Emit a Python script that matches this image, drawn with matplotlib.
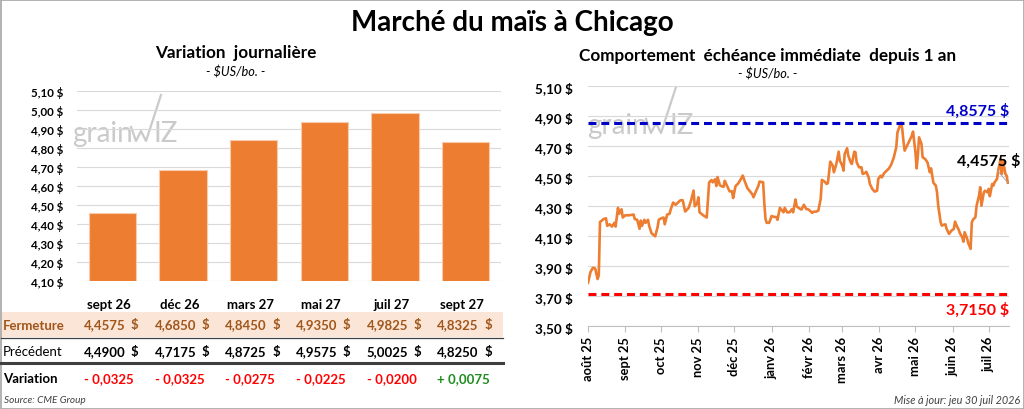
import numpy as np
import pandas as pd
import matplotlib
matplotlib.use("Agg")
import matplotlib.pyplot as plt
import matplotlib.dates as mdates
from matplotlib.transforms import blended_transform_factory
from matplotlib.patches import Rectangle
from matplotlib.lines import Line2D

plt.rcParams['font.family'] = ['Lato', 'DejaVu Sans']

# --- Données : variation journalière (contrats) ---
echeances = ["sept 26", "déc 26", "mars 27", "mai 27", "juil 27", "sept 27"]
fermeture = [4.4575, 4.6850, 4.8450, 4.9350, 4.9825, 4.8325]
precedent = [4.4900, 4.7175, 4.8725, 4.9575, 5.0025, 4.8250]

# --- Données : échéance immédiate depuis 1 an ---
jour = [
    "2025-08-01", "2025-08-03", "2025-08-05", "2025-08-07", "2025-08-09", "2025-08-10", "2025-08-11", "2025-08-14", "2025-08-16", "2025-08-17",
    "2025-08-19", "2025-08-21", "2025-08-23", "2025-08-24", "2025-08-26", "2025-08-27", "2025-08-29", "2025-08-30", "2025-09-01", "2025-09-04",
    "2025-09-08", "2025-09-09", "2025-09-11", "2025-09-13", "2025-09-14", "2025-09-15", "2025-09-17", "2025-09-18", "2025-09-20", "2025-09-21",
    "2025-09-23", "2025-09-26", "2025-09-28", "2025-09-29", "2025-10-01", "2025-10-03", "2025-10-04", "2025-10-06", "2025-10-08", "2025-10-09",
    "2025-10-11", "2025-10-13", "2025-10-15", "2025-10-17", "2025-10-19", "2025-10-21", "2025-10-24", "2025-10-26", "2025-10-28", "2025-10-29",
    "2025-10-31", "2025-11-01", "2025-11-02", "2025-11-05", "2025-11-07", "2025-11-08", "2025-11-10", "2025-11-12", "2025-11-13", "2025-11-15",
    "2025-11-16", "2025-11-17", "2025-11-19", "2025-11-20", "2025-11-22", "2025-11-23", "2025-11-25", "2025-11-27", "2025-11-29", "2025-11-30",
    "2025-12-02", "2025-12-04", "2025-12-06", "2025-12-08", "2025-12-10", "2025-12-12", "2025-12-14", "2025-12-16", "2025-12-17", "2025-12-19",
    "2025-12-21", "2025-12-22", "2025-12-25", "2025-12-26", "2025-12-27", "2025-12-28", "2025-12-30", "2025-12-31", "2026-01-01", "2026-01-03",
    "2026-01-05", "2026-01-06", "2026-01-08", "2026-01-09", "2026-01-11", "2026-01-12", "2026-01-14", "2026-01-16", "2026-01-18", "2026-01-19",
    "2026-01-21", "2026-01-22", "2026-01-24", "2026-01-26", "2026-01-28", "2026-01-30", "2026-02-01", "2026-02-04", "2026-02-05", "2026-02-07",
    "2026-02-09", "2026-02-11", "2026-02-12", "2026-02-14", "2026-02-16", "2026-02-17", "2026-02-19", "2026-02-21", "2026-02-22", "2026-02-24",
    "2026-02-26", "2026-02-27", "2026-03-01", "2026-03-02", "2026-03-03", "2026-03-05", "2026-03-06", "2026-03-08", "2026-03-09", "2026-03-11",
    "2026-03-12", "2026-03-13", "2026-03-15", "2026-03-17", "2026-03-18", "2026-03-20", "2026-03-21", "2026-03-23", "2026-03-24", "2026-03-26",
    "2026-03-28", "2026-03-30", "2026-03-31", "2026-04-02", "2026-04-03", "2026-04-05", "2026-04-07", "2026-04-09", "2026-04-11", "2026-04-13",
    "2026-04-15", "2026-04-16", "2026-04-18", "2026-04-19", "2026-04-20", "2026-04-21", "2026-04-22", "2026-04-24", "2026-04-26", "2026-04-28",
    "2026-04-29", "2026-05-01", "2026-05-02", "2026-05-03", "2026-05-04", "2026-05-06", "2026-05-07", "2026-05-09", "2026-05-11", "2026-05-12",
    "2026-05-13", "2026-05-14", "2026-05-15", "2026-05-16", "2026-05-18", "2026-05-19", "2026-05-20", "2026-05-22", "2026-05-23", "2026-05-24",
    "2026-05-26", "2026-05-27", "2026-05-29", "2026-05-30", "2026-05-31", "2026-06-02", "2026-06-03", "2026-06-05", "2026-06-06", "2026-06-07",
    "2026-06-09", "2026-06-10", "2026-06-11", "2026-06-13", "2026-06-14", "2026-06-16", "2026-06-17", "2026-06-18", "2026-06-20", "2026-06-21",
    "2026-06-23", "2026-06-24", "2026-06-25", "2026-06-27", "2026-06-28", "2026-06-30", "2026-07-01", "2026-07-02", "2026-07-04", "2026-07-05",
    "2026-07-06", "2026-07-08", "2026-07-09", "2026-07-11", "2026-07-12", "2026-07-13", "2026-07-14", "2026-07-15", "2026-07-16", "2026-07-17",
]
prix = [
    3.79, 3.86, 3.89, 3.885, 3.815, 3.84, 4.195, 4.215, 4.22, 4.17,
    4.18, 4.165, 4.19, 4.165, 4.29, 4.25, 4.28, 4.225, 4.24, 4.24,
    4.245, 4.215, 4.21, 4.15, 4.205, 4.17, 4.21, 4.19, 4.21, 4.17,
    4.12, 4.10, 4.16, 4.21, 4.22, 4.225, 4.18, 4.245, 4.25, 4.28,
    4.325, 4.31, 4.325, 4.34, 4.34, 4.265, 4.29, 4.34, 4.405, 4.30,
    4.32, 4.36, 4.26, 4.24, 4.23, 4.225, 4.46, 4.475, 4.46, 4.48,
    4.435, 4.495, 4.44, 4.435, 4.43, 4.47, 4.435, 4.40, 4.40, 4.355,
    4.435, 4.45, 4.475, 4.505, 4.46, 4.42, 4.40, 4.38, 4.36, 4.40,
    4.435, 4.465, 4.46, 4.32, 4.215, 4.19, 4.19, 4.21, 4.235, 4.23,
    4.228, 4.21, 4.29, 4.28, 4.26, 4.29, 4.26, 4.26, 4.28, 4.26,
    4.345, 4.30, 4.287, 4.278, 4.31, 4.282, 4.278, 4.256, 4.264, 4.264,
    4.271, 4.349, 4.476, 4.466, 4.449, 4.455, 4.598, 4.571, 4.527, 4.58,
    4.664, 4.604, 4.571, 4.538, 4.649, 4.687, 4.638, 4.593, 4.582, 4.664,
    4.66, 4.593, 4.56, 4.56, 4.516, 4.522, 4.53, 4.493, 4.449, 4.416,
    4.398, 4.404, 4.482, 4.504, 4.493, 4.522, 4.538, 4.553, 4.582, 4.627,
    4.693, 4.793, 4.838, 4.8575, 4.816, 4.735, 4.671, 4.704, 4.738, 4.771,
    4.798, 4.66, 4.553, 4.638, 4.76, 4.716, 4.627, 4.616, 4.593, 4.56,
    4.527, 4.553, 4.504, 4.456, 4.438, 4.393, 4.304, 4.193, 4.171, 4.175,
    4.18, 4.149, 4.116, 4.127, 4.138, 4.149, 4.198, 4.16, 4.145, 4.122,
    4.093, 4.064, 4.127, 4.087, 4.056, 4.016, 4.193, 4.211, 4.227, 4.304,
    4.371, 4.427, 4.304, 4.393, 4.404, 4.393, 4.416, 4.367, 4.449, 4.438,
    4.46, 4.482, 4.538, 4.616, 4.516, 4.604, 4.56, 4.516, 4.504, 4.4575,
]
haut_52s = 4.8575
bas_52s = 3.7150
mois_labels = ["août 25", "sept 25", "oct 25", "nov 25", "déc 25", "janv 26",
               "févr 26", "mars 26", "avr 26", "mai 26", "juin 26", "juil 26"]

ORANGE = "#ED7D31"
BRUN = "#A0561B"
GRILLE = "#D9D9D9"

W, H = 1024, 410


def fx(px):
    return px / W


def fy(py):
    return 1 - py / H


def fr(v, nd=2):
    return f"{v:.{nd}f}".replace(".", ",") + " $"


def f4(v):
    return f"{v:.4f}".replace(".", ",")


fig = plt.figure(figsize=(W / 100, H / 100), dpi=100)

# cadre
fig.add_artist(Rectangle((fx(0.5), fy(409.5)), fx(1023), 409 / H, transform=fig.transFigure,
                         fill=False, ec="#A6A6A6", lw=1.2))

fig.text(0.5, fy(23), "Marché du maïs à Chicago", ha="center", va="center",
         fontsize=20, fontweight="bold")
fig.text(fx(236), fy(53), "Variation  journalière", ha="center", va="center",
         fontsize=12.3, fontweight="bold")
fig.text(fx(236), fy(72.5), "- $US/bo. -", ha="center", va="center", fontsize=9.2, style="italic")
fig.text(fx(768), fy(55.5), "Comportement  échéance immédiate  depuis 1 an", ha="center",
         va="center", fontsize=12.3, fontweight="bold")
fig.text(fx(768), fy(74.5), "- $US/bo. -", ha="center", va="center", fontsize=9.2, style="italic")


# filigrane grainWiz
def filigrane(x0, base):
    c = "#CACACA"
    fig.text(fx(x0), fy(base), "grain", fontsize=20, color=c, ha="left", va="baseline", zorder=-1)
    xs = [x0 + 59, x0 + 64, x0 + 69, x0 + 74, x0 + 89]
    ys = [base - 14, base, base - 10, base, base - 46]
    fig.add_artist(Line2D([fx(v) for v in xs], [fy(v) for v in ys], color=c, lw=1.6,
                          transform=fig.transFigure, zorder=-1))
    fig.text(fx(x0 + 82), fy(base), "IZ", fontsize=20, color=c, ha="left", va="baseline", zorder=-1)


filigrane(72, 142)
filigrane(587, 134)

# --- Graphique à barres ---
ax1 = fig.add_axes([fx(77), fy(282.3), fx(424), 190.3 / H])
ax1.set_facecolor("none")
x = np.arange(len(echeances))
ax1.bar(x, fermeture, width=0.67, color=ORANGE, edgecolor="#F8CBAD", lw=0.8, zorder=3)
ax1.set_xlim(-0.5, len(echeances) - 0.5)
ax1.set_ylim(4.10, 5.10)
yt1 = np.arange(4.10, 5.101, 0.10)
ax1.set_yticks(yt1)
ax1.set_yticklabels([fr(v) for v in yt1], fontsize=8.3, fontweight="bold")
ax1.set_xticks([])
ax1.tick_params(axis="y", length=0, pad=10)
ax1.grid(axis="y", color=GRILLE, lw=0.8)
ax1.set_axisbelow(True)
for s in ax1.spines.values():
    s.set_visible(False)

# tableau sous les barres
tr = blended_transform_factory(ax1.transData, fig.transFigure)
fig.add_artist(Rectangle((fx(1), fy(338)), fx(502), 25.5 / H, transform=fig.transFigure,
                         fc="#FBE5D6", ec="none", zorder=0))
fig.add_artist(Line2D([fx(1), fx(503)], [fy(338.5)] * 2, color="#404040", lw=0.9,
                      transform=fig.transFigure))
fig.add_artist(Line2D([fx(1), fx(503)], [fy(364)] * 2, color="#3F3F3F", lw=2.2,
                      transform=fig.transFigure))

TS = 9.5
fig.text(fx(3), fy(325.5), "Fermeture", fontsize=TS, fontweight="bold", color=BRUN, va="center")
fig.text(fx(3), fy(352), "Précédent", fontsize=TS, color="black", va="center")
fig.text(fx(3), fy(379), "Variation", fontsize=TS, fontweight="bold", color="black", va="center")

for i, nom in enumerate(echeances):
    fig.text(i - 0.05, fy(305), nom, transform=tr, ha="center", va="center", fontsize=TS,
             fontweight="bold")
    fig.text(i - 0.4, fy(325.5), f4(fermeture[i]), transform=tr, ha="left", va="center",
             fontsize=TS, fontweight="bold", color=BRUN)
    fig.text(i + 0.37, fy(325.5), "$", transform=tr, ha="right", va="center",
             fontsize=TS, fontweight="bold", color=BRUN)
    fig.text(i - 0.4, fy(352), f4(precedent[i]), transform=tr, ha="left", va="center",
             fontsize=TS, fontweight="bold")
    fig.text(i + 0.37, fy(352), "$", transform=tr, ha="right", va="center",
             fontsize=TS, fontweight="bold")
    d = fermeture[i] - precedent[i]
    signe = "+ " if d > 0 else "- "
    fig.text(i - 0.4, fy(379), signe + f4(abs(d)), transform=tr, ha="left", va="center",
             fontsize=TS, fontweight="bold", color="#1E8C1E" if d > 0 else "#FF0000")

fig.text(fx(4), fy(401), "Source: CME Group", fontsize=7.2, style="italic", va="center",
         color="#404040")
fig.text(fx(1020), fy(401), "Mise à jour: jeu 30 juil 2026", fontsize=7.8, style="italic",
         va="center", ha="right", color="#404040")

# --- Graphique ligne ---
ax2 = fig.add_axes([fx(588), fy(327.3), fx(421), 240 / H])
ax2.set_facecolor("none")
dates = pd.to_datetime(jour)
ax2.plot(dates, prix, color=ORANGE, lw=1.9, zorder=3)
ax2.axhline(haut_52s, color="#0000C8", lw=2.2, ls=(0, (2.6, 1.6)), zorder=4)
ax2.axhline(bas_52s, color="#FF0000", lw=2.2, ls=(0, (2.6, 1.6)), zorder=4)
ax2.set_xlim(pd.Timestamp("2025-08-01"), pd.Timestamp("2026-07-18"))
ax2.set_ylim(3.50, 5.10)
yt = np.arange(3.50, 5.101, 0.20)
ax2.set_yticks(yt)
ax2.set_yticklabels([fr(v) for v in yt], fontsize=9.7, fontweight="bold")
ax2.xaxis.set_major_locator(mdates.MonthLocator())
ax2.set_xticks(ax2.get_xticks())
ax2.set_xticklabels(mois_labels, rotation=90, fontsize=9.3, fontweight="bold")
ax2.tick_params(axis="y", length=0, pad=11)
ax2.tick_params(axis="x", length=4, color="#BFBFBF", pad=3)
ax2.grid(axis="y", color=GRILLE, lw=0.8)
ax2.set_axisbelow(True)
for k, s in ax2.spines.items():
    s.set_visible(k == "bottom")
ax2.spines["bottom"].set_color("#BFBFBF")

ax2.annotate(fr(haut_52s, 4), xy=(1, haut_52s),
             xycoords=("axes fraction", "data"), xytext=(0, 9), textcoords="offset points",
             ha="right", va="center", fontsize=11.5, fontweight="bold", color="#0000C8")
ax2.annotate(fr(bas_52s, 4), xy=(1, bas_52s),
             xycoords=("axes fraction", "data"), xytext=(0, -11), textcoords="offset points",
             ha="right", va="center", fontsize=11.5, fontweight="bold", color="#FF0000")
ax2.annotate(fr(prix[-1], 4), xy=(dates[-1], prix[-1]), xytext=(-14, 16),
             textcoords="offset points", ha="center", va="center", fontsize=11.5,
             fontweight="bold", color="black",
             arrowprops=dict(arrowstyle="-", color="#A6A6A6", lw=0.6, shrinkA=0, shrinkB=0))

fig.savefig("out.png", dpi=100)
